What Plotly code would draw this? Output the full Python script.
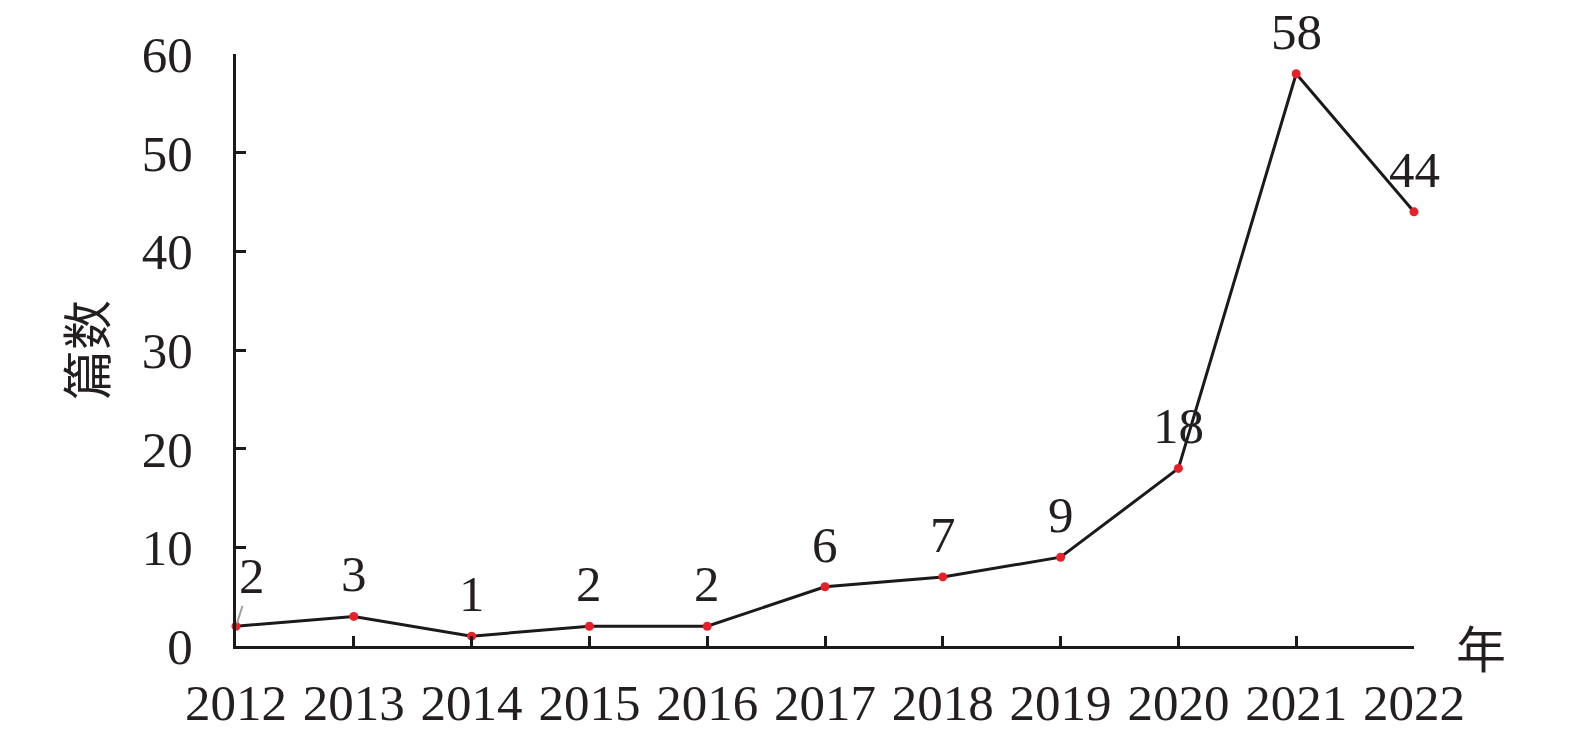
import plotly.graph_objects as go

years = [2012, 2013, 2014, 2015, 2016, 2017, 2018, 2019, 2020, 2021, 2022]
counts = [2, 3, 1, 2, 2, 6, 7, 9, 18, 58, 44]
y_ticks = [0, 10, 20, 30, 40, 50, 60]
y_title = "篇数"
x_title = "年"

FONT = "Liberation Serif"
TXT = "#231f20"
LBL = 51

fig = go.Figure()
fig.add_trace(go.Scatter(
    x=years, y=counts, mode="lines+markers",
    line=dict(color="#1a1a1a", width=3),
    marker=dict(color="#e8202a", size=9),
    showlegend=False, cliponaxis=False,
))

annotations = []
for i, (yr, c) in enumerate(zip(years, counts)):
    if i == 0:
        annotations.append(dict(
            x=yr, y=c, text=str(c), showarrow=True, arrowhead=0,
            arrowcolor="#a0a0a0", arrowwidth=2, ax=16, ay=-50,
            standoff=3, font=dict(family=FONT, size=LBL, color=TXT),
            xref="x", yref="y"))
    else:
        annotations.append(dict(
            x=yr, y=c, text=str(c), showarrow=False, yshift=42,
            yanchor="middle", font=dict(family=FONT, size=LBL, color=TXT),
            xref="x", yref="y"))

annotations.append(dict(
    x=1.0, y=0, xref="paper", yref="y", text=x_title, showarrow=False,
    xanchor="left", yanchor="middle", xshift=40,
    font=dict(family="Noto Sans CJK SC", size=50, color=TXT)))
annotations.append(dict(
    x=0, y=30, xref="paper", yref="y", text=y_title, showarrow=False,
    textangle=-90, xanchor="center", yanchor="middle", xshift=-152,
    font=dict(family="Noto Sans CJK SC", size=50, color=TXT)))

fig.update_layout(
    width=1567, height=736,
    margin=dict(l=228, r=161, t=46, b=98),
    plot_bgcolor="white", paper_bgcolor="white",
    font=dict(family=FONT, size=LBL, color=TXT),
    annotations=annotations,
    xaxis=dict(
        range=[2012, 2022], tickvals=years, ticktext=[str(y) for y in years],
        showgrid=False, zeroline=False, showline=True, linecolor="#1a1a1a",
        linewidth=3, ticks="inside", ticklen=10, tickwidth=3,
        tickcolor="#1a1a1a", automargin=False, ticklabelstandoff=10,
        tickfont=dict(family=FONT, size=LBL, color=TXT),
    ),
    yaxis=dict(
        range=[0, 60], tickvals=y_ticks, showgrid=False, zeroline=False,
        showline=True, linecolor="#1a1a1a", linewidth=3, ticks="inside",
        ticklen=10, tickwidth=3, tickcolor="#1a1a1a", ticklabelstandoff=30,
        automargin=False,
        tickfont=dict(family=FONT, size=LBL, color=TXT),
    ),
)

fig.write_html("out.html")
